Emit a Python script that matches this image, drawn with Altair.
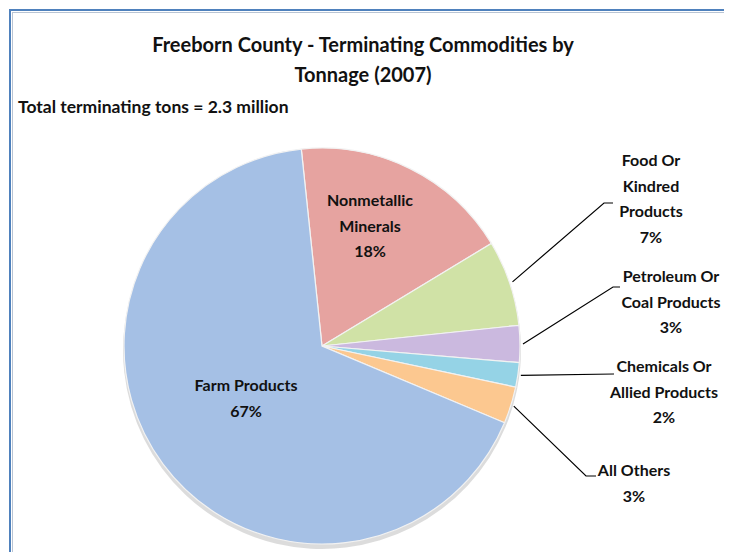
import math
import altair as alt
import pandas as pd

# ---------------- data ----------------
categories = ["Nonmetallic Minerals", "Food Or Kindred Products", "Petroleum Or Coal Products",
              "Chemicals Or Allied Products", "All Others", "Farm Products"]
shares = [18, 7, 3, 2, 3, 67]
colors = ["#e6a3a0", "#d0e2a6", "#cbb9df", "#95d3e6", "#fcc890", "#a5c0e5"]
label_lines = [
    ["Nonmetallic", "Minerals", "18%"],
    ["Food Or", "Kindred", "Products", "7%"],
    ["Petroleum Or", "Coal Products", "3%"],
    ["Chemicals Or", "Allied Products", "2%"],
    ["All Others", "3%"],
    ["Farm Products", "67%"],
]
title_lines = ["Freeborn County - Terminating Commodities by", "Tonnage (2007)"]
subtitle = "Total terminating tons = 2.3 million"

# ---------------- layout ----------------
W, H = 716, 544
CX, CY, R = 313, 337, 198
ROT = math.radians(-6)
FONT = "Lato"
LINE_H = 25.5
# label block (center x, first line y) in chart pixels
label_pos = [(361, 192), (642, 152), (662, 268), (655, 358), (625, 462), (237, 377)]
# leader elbows and ends for outside labels (index -> [elbow, end])
leader_pts = {1: [(595, 194), (604, 194)],
              2: [(604, 278), (611, 278)],
              3: [(605, 365), (605, 365)],
              4: [(577, 467), (587, 467)]}

df = pd.DataFrame({"cat": categories, "value": shares, "order": list(range(len(categories)))})

theta_scale = alt.Scale(range=[ROT, ROT + 2 * math.pi])
color_scale = alt.Scale(domain=categories, range=colors)

shadow = alt.Chart(df).mark_arc(radius=R + 1, color="#9a9a9a", opacity=0.35).encode(
    theta=alt.Theta("value:Q", stack=True, scale=theta_scale),
    order=alt.Order("order:Q"),
    x=alt.value(CX), y=alt.value(CY + 4),
)

pie = alt.Chart(df).mark_arc(radius=R, stroke="#f2f2f2", strokeWidth=1.2).encode(
    theta=alt.Theta("value:Q", stack=True, scale=theta_scale),
    color=alt.Color("cat:N", scale=color_scale, legend=None),
    order=alt.Order("order:Q"),
    x=alt.value(CX), y=alt.value(CY),
)

# labels
rows = []
for (lx, ly), lines in zip(label_pos, label_lines):
    for i, t in enumerate(lines):
        rows.append({"x": lx, "y": ly + i * LINE_H, "t": t})
lab_df = pd.DataFrame(rows)
labels = alt.Chart(lab_df).mark_text(font=FONT, fontSize=16, fontWeight="bold",
                                     color="#111111", align="center", baseline="middle").encode(
    x=alt.X("x:Q", scale=None, axis=None), y=alt.Y("y:Q", scale=None, axis=None), text="t:N")

# leader lines: start at slice mid-angle on the rim
total = sum(shares)
cum = 0
lrows = []
for idx, v in enumerate(shares):
    mid = ROT + 2 * math.pi * (cum + v / 2) / total
    cum += v
    if idx in leader_pts:
        sx = CX + (R + 3) * math.sin(mid)
        sy = CY - (R + 3) * math.cos(mid)
        pts = [(sx, sy)] + leader_pts[idx]
        for j, (px, py) in enumerate(pts):
            lrows.append({"id": idx, "seq": j, "x": px, "y": py})
lead_df = pd.DataFrame(lrows)
leaders = alt.Chart(lead_df).mark_line(color="#000000", strokeWidth=1.2).encode(
    x=alt.X("x:Q", scale=None, axis=None), y=alt.Y("y:Q", scale=None, axis=None),
    detail="id:N", order="seq:Q")

# titles
tdf = pd.DataFrame({"x": [354, 354], "y": [37, 67], "t": title_lines})
title = alt.Chart(tdf).mark_text(font=FONT, fontSize=20, fontWeight="bold", color="#111111",
                                 align="center", baseline="middle").encode(
    x=alt.X("x:Q", scale=None, axis=None), y=alt.Y("y:Q", scale=None, axis=None), text="t:N")
sdf = pd.DataFrame({"x": [9], "y": [99], "t": [subtitle]})
sub = alt.Chart(sdf).mark_text(font=FONT, fontSize=17.5, fontWeight="bold", color="#111111",
                               align="left", baseline="middle").encode(
    x=alt.X("x:Q", scale=None, axis=None), y=alt.Y("y:Q", scale=None, axis=None), text="t:N")

# frame (left and top edges)
frame = alt.layer(
    alt.Chart(pd.DataFrame({"a": [0]})).mark_rule(color="#4f81bd", strokeWidth=2).encode(
        x=alt.value(1), y=alt.value(0), y2=alt.value(H)),
    alt.Chart(pd.DataFrame({"a": [0]})).mark_rule(color="#b8c4d4", strokeWidth=1).encode(
        x=alt.value(3.5), y=alt.value(3), y2=alt.value(H)),
    alt.Chart(pd.DataFrame({"a": [0]})).mark_rule(color="#4f81bd", strokeWidth=2).encode(
        x=alt.value(0), x2=alt.value(W), y=alt.value(1)),
    alt.Chart(pd.DataFrame({"a": [0]})).mark_rule(color="#b8c4d4", strokeWidth=1).encode(
        x=alt.value(3), x2=alt.value(W), y=alt.value(3.5)),
)

chart = alt.layer(frame, shadow, pie, leaders, labels, title, sub).properties(
    width=W, height=H, padding=0,
    autosize=alt.AutoSizeParams(type="fit", contains="padding"),
    background="#ffffff",
).configure_view(stroke=None)

chart.save("out.html", embed_options={"renderer": "svg", "actions": False})
